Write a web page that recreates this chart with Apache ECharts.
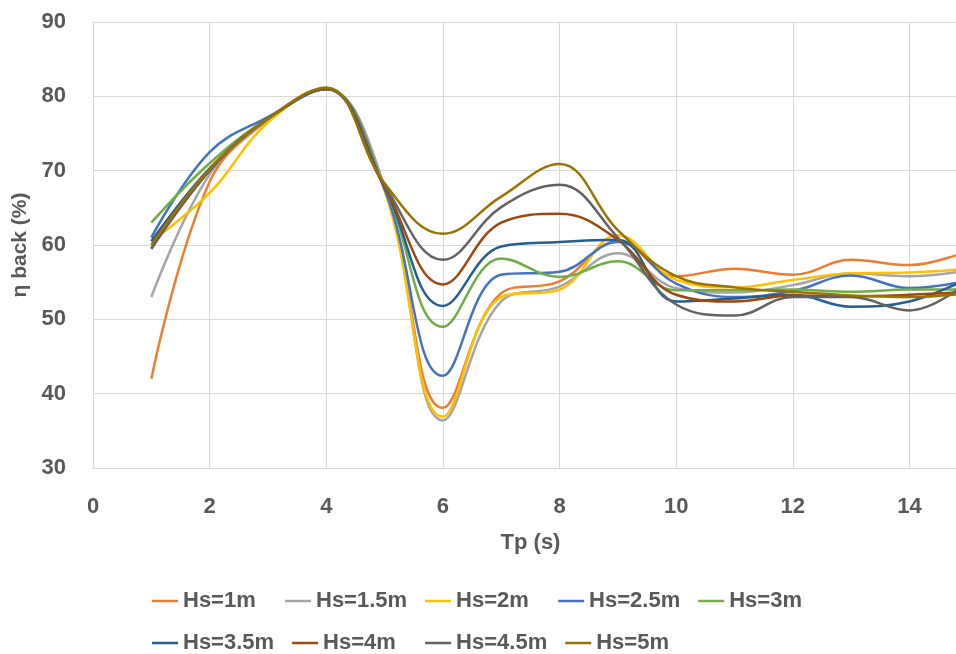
<!DOCTYPE html>
<html>
<head>
<meta charset="utf-8">
<title>eta back vs Tp</title>
<script src="https://cdn.jsdelivr.net/npm/echarts@6/dist/echarts.min.js"></script>
<style>
  html, body { margin: 0; padding: 0; background: #fff; }
  #chart { width: 956px; height: 654px; }
</style>
</head>
<body>
<div id="chart"></div>
<script>
// Tp (s) sample points
const tp = [1, 2, 3, 4, 5, 6, 7, 8, 9, 10, 11, 12, 13, 14, 15];

// η back (%) for each Hs
const hs1   = [42.0, 68.5, 76.8, 81.0, 67.8, 38.1, 53.5, 55.1, 60.5, 55.8, 56.8, 56.0, 58.0, 57.3, 59.2];
const hs1_5 = [53.0, 69.5, 76.8, 81.0, 67.8, 36.4, 52.4, 54.4, 58.9, 54.2, 53.6, 54.6, 56.2, 55.8, 56.6];
const hs2   = [60.5, 67.0, 76.5, 81.0, 67.3, 36.9, 53.0, 54.0, 61.3, 55.3, 54.3, 55.3, 56.2, 56.3, 56.8];
const hs2_5 = [61.0, 72.5, 77.2, 81.0, 67.5, 42.4, 56.0, 56.4, 60.4, 54.8, 53.0, 53.8, 55.9, 54.2, 55.2];
const hs3   = [63.0, 71.0, 77.0, 81.0, 67.8, 49.0, 58.2, 55.7, 57.8, 53.9, 53.9, 54.0, 53.7, 54.0, 54.0];
const hs3_5 = [60.5, 70.3, 77.0, 81.0, 67.8, 51.8, 59.8, 60.4, 60.7, 52.4, 52.8, 53.3, 51.7, 52.4, 55.5];
const hs4   = [59.5, 70.0, 77.0, 81.0, 67.8, 54.7, 63.0, 64.2, 60.7, 53.3, 52.4, 53.2, 53.1, 53.3, 53.7];
const hs4_5 = [59.5, 70.0, 77.0, 81.0, 68.0, 58.0, 65.1, 68.1, 61.0, 52.0, 50.5, 53.0, 53.0, 51.2, 55.0];
const hs5   = [60.0, 70.2, 77.0, 81.2, 68.3, 61.5, 66.5, 70.9, 62.0, 55.8, 54.3, 53.7, 53.2, 53.0, 53.5];

const names = ['Hs=1m', 'Hs=1.5m', 'Hs=2m', 'Hs=2.5m', 'Hs=3m', 'Hs=3.5m', 'Hs=4m', 'Hs=4.5m', 'Hs=5m'];
const values = [hs1, hs1_5, hs2, hs2_5, hs3, hs3_5, hs4, hs4_5, hs5];
const colors = ['#ED7D31', '#A5A5A5', '#FFC000', '#4472C4', '#70AD47', '#255E91', '#9E480E', '#636363', '#997300'];

// x ticks 0..16 step 2 (16 falls off the right edge like the original crop)
const xMin = 0, xMax = 16, xStep = 2;
const yMin = 30, yMax = 90, yStep = 10;

const txt = '#595959';
const font = '"Liberation Sans", Arial, sans-serif';

const chart = echarts.init(document.getElementById('chart'));

const series = names.map(function (n, i) {
  return {
    name: n,
    type: 'line',
    smooth: 0.4,
    symbol: 'none',
    lineStyle: { width: 2.5, color: colors[i] },
    itemStyle: { color: colors[i] },
    data: tp.map(function (x, j) { return [x, values[i][j]]; })
  };
});

chart.setOption({
  animation: false,
  textStyle: { fontFamily: font },
  // plot runs past the right edge of the canvas
  grid: { left: 93, top: 22, bottom: 186, right: -70, outerBoundsMode: 'none', containLabel: false },
  xAxis: {
    type: 'value',
    min: xMin, max: xMax, interval: xStep,
    name: 'Tp (s)',
    nameLocation: 'middle',
    nameGap: 64,
    nameTextStyle: { color: txt, fontSize: 22, fontWeight: 'bold', padding: [0, 58, 0, 0] },
    axisLine: { show: true, lineStyle: { color: '#d9d9d9', width: 1 } },
    axisTick: { show: false },
    axisLabel: { color: txt, fontSize: 22, fontWeight: 'bold', margin: 28 },
    splitLine: { show: true, lineStyle: { color: '#d9d9d9', width: 1 } }
  },
  yAxis: {
    type: 'value',
    min: yMin, max: yMax, interval: yStep,
    name: 'η back (%)',
    nameLocation: 'middle',
    nameGap: 54,
    nameTextStyle: { color: txt, fontSize: 21, fontWeight: 'bold' },
    axisLine: { show: true, lineStyle: { color: '#d9d9d9', width: 1 } },
    axisTick: { show: false },
    axisLabel: { color: txt, fontSize: 22, fontWeight: 'bold', margin: 27 },
    splitLine: { show: true, lineStyle: { color: '#d9d9d9', width: 1 } }
  },
  legend: {
    data: names,
    left: 147,
    top: 584,
    width: 670,
    orient: 'horizontal',
    icon: 'rect',
    itemWidth: 26,
    itemHeight: 2.5,
    itemGap: 18,
    textStyle: { color: txt, fontSize: 22, fontWeight: 'bold', width: 84, lineHeight: 24 }
  },
  series: series
});
</script>
</body>
</html>
